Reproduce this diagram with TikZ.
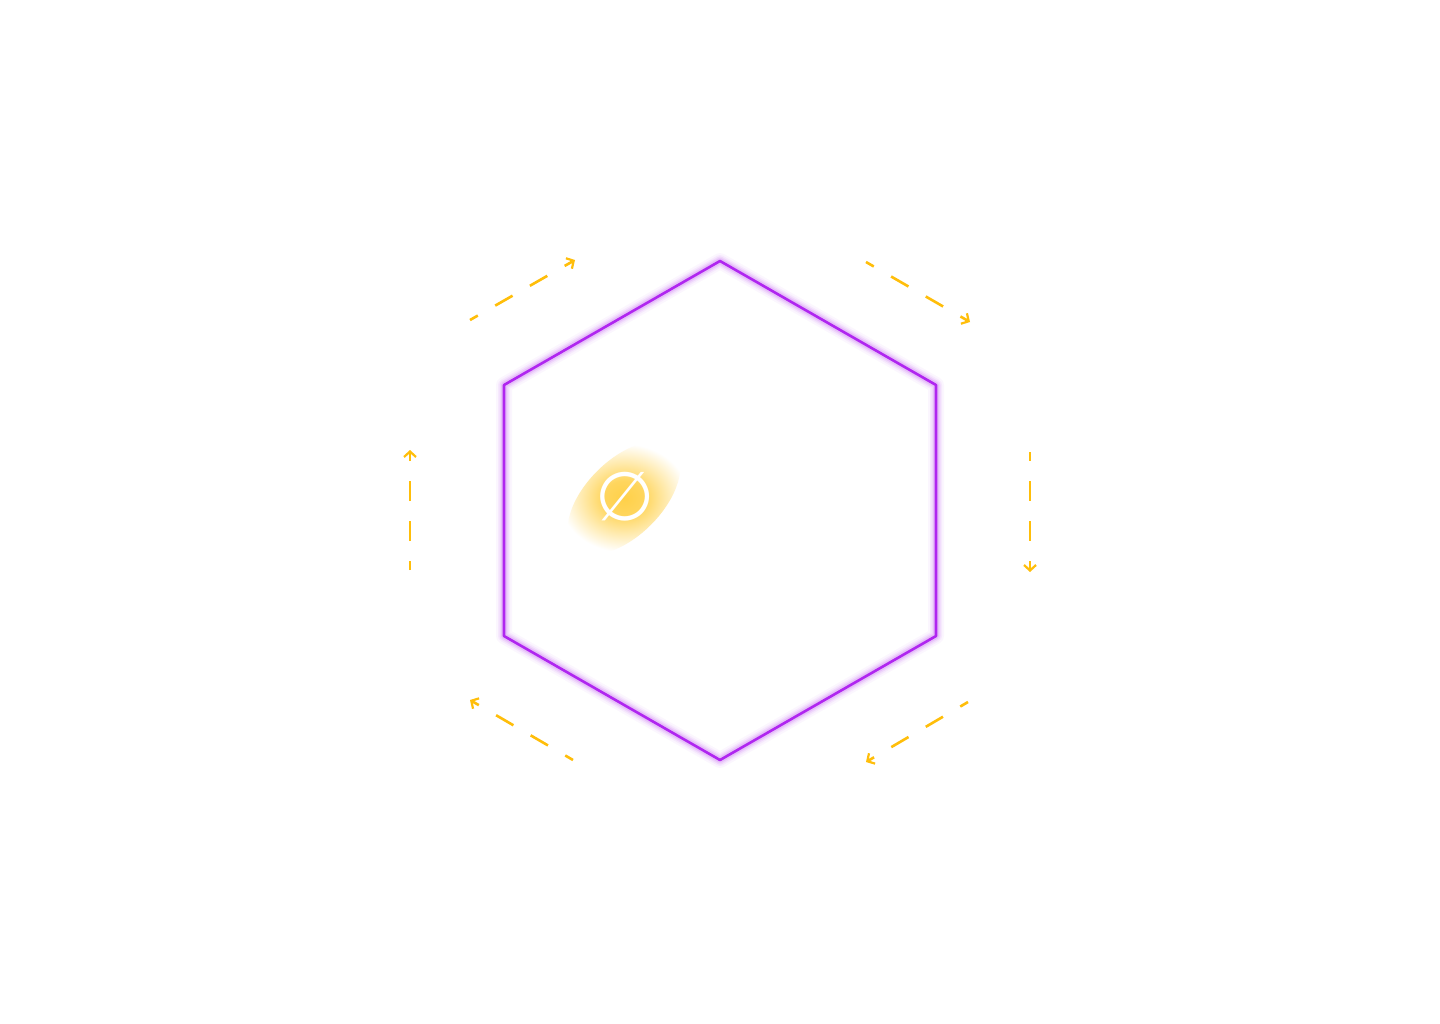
\documentclass[tikz,border=0pt]{standalone}
\usepackage{fontspec}
\setmainfont{DejaVu Sans}
\usetikzlibrary{arrows.meta}
\definecolor{hexpurple}{RGB}{176,38,240}
\definecolor{flowyellow}{RGB}{255,190,10}
\definecolor{glowyellow}{RGB}{255,200,40}
\pgfdeclareradialshading{softglow}{\pgfpoint{0bp}{0bp}}{color(0bp)=(glowyellow!85!white); color(8bp)=(glowyellow!75!white); color(17bp)=(glowyellow!35!white); color(25bp)=(white); color(50bp)=(white)}
\tikzset{
  flow/.style={draw=flowyellow, line width=2.6pt, dash pattern=on 20pt off 20pt, dash phase=11pt,
    -{Straight Barb[length=5.5pt,width=12pt,line width=2.2pt]}},
}
\begin{document}
\begin{tikzpicture}[x=1pt,y=-1pt]
\useasboundingbox (0,0) rectangle (1440,1023);
\fill[white] (0,0) rectangle (1440,1023);
% hexagon corners
\coordinate (h1) at (720,261);
\coordinate (h2) at (936,385);
\coordinate (h3) at (936,636);
\coordinate (h4) at (720,760);
\coordinate (h5) at (504,636);
\coordinate (h6) at (504,385);
% glow of hexagon
\foreach \w/\o in {16/0.04,12/0.06,9/0.09,6/0.14}{
  \draw[hexpurple, line width=\w pt, opacity=\o, line join=round] (h1)--(h2)--(h3)--(h4)--(h5)--(h6)--cycle;
}
\draw[hexpurple, line width=2.6pt, line join=round] (h1)--(h2)--(h3)--(h4)--(h5)--(h6)--cycle;
% central glow
\shade[shading=softglow, rotate around={45:(624,498)}] (624,498) ellipse [x radius=70pt, y radius=38pt];
\node[text=white, font=\fontsize{68}{68}\selectfont] (label) at (625,497) {∅};
% flow arrows
\coordinate (a1s) at (470,320); \coordinate (a1e) at (575,260);
\coordinate (a2s) at (866,262); \coordinate (a2e) at (970,322);
\coordinate (a3s) at (1030,452); \coordinate (a3e) at (1030,572);
\coordinate (a4s) at (968,702); \coordinate (a4e) at (866,762);
\coordinate (a5s) at (573,760); \coordinate (a5e) at (470,700);
\coordinate (a6s) at (410,570); \coordinate (a6e) at (410,450);
\foreach \s/\e in {a1s/a1e,a2s/a2e,a3s/a3e,a4s/a4e,a5s/a5e,a6s/a6e}{
  \draw[flow] (\s) -- (\e);
}
\end{tikzpicture}
\end{document}
